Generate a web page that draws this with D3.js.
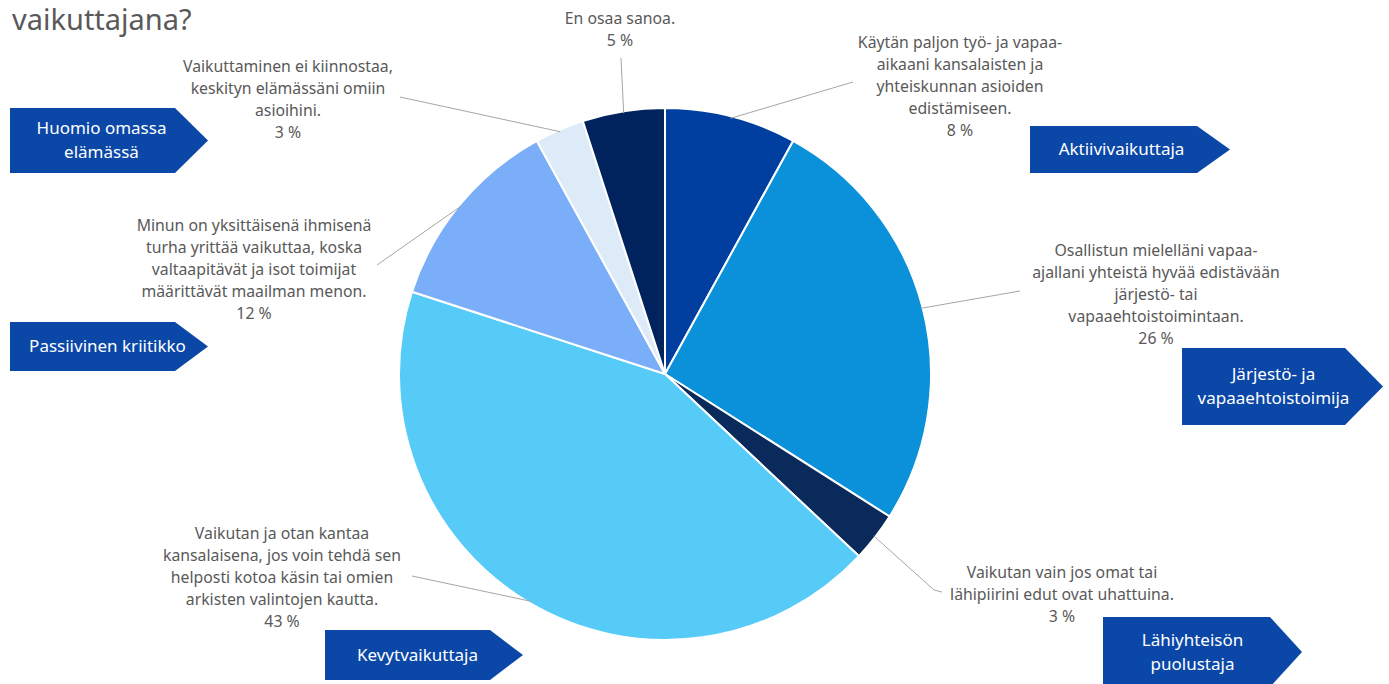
<!DOCTYPE html>
<html>
<head>
<meta charset="utf-8">
<title>vaikuttajana?</title>
<script src="https://cdn.jsdelivr.net/npm/d3@7"></script>
<style>
  body { margin: 0; background: #fff; }
  svg { display: block; font-family: "Noto Sans", "Open Sans", sans-serif; }
  .lbl { fill: #595959; font-size: 15.8px; }
  .tag { fill: #fff; font-size: 17px; }
</style>
</head>
<body>
<div id="chart"></div>
<script>
// answers, clockwise from 12 o'clock
const answers = [
  "Käytän paljon työ- ja vapaa-|aikaani kansalaisten ja|yhteiskunnan asioiden|edistämiseen.",
  "Osallistun mielelläni vapaa-|ajallani yhteistä hyvää edistävään|järjestö- tai|vapaaehtoistoimintaan.",
  "Vaikutan vain jos omat tai|lähipiirini edut ovat uhattuina.",
  "Vaikutan ja otan kantaa|kansalaisena, jos voin tehdä sen|helposti kotoa käsin tai omien|arkisten valintojen kautta.",
  "Minun on yksittäisenä ihmisenä|turha yrittää vaikuttaa, koska|valtaapitävät ja isot toimijat|määrittävät maailman menon.",
  "Vaikuttaminen ei kiinnostaa,|keskityn elämässäni omiin|asioihini.",
  "En osaa sanoa."
];
const shares = [8, 26, 3, 43, 12, 3, 5];
const sliceColors = ["#003fa0", "#0a91da", "#0b2a5c", "#56cbf8", "#7aaef8", "#ddebf9", "#00235e"];

// profile tags
const profiles = ["Aktiivivaikuttaja", "Järjestö- ja|vapaaehtoistoimija", "Lähiyhteisön|puolustaja",
  "Kevytvaikuttaja", "Passiivinen kriitikko", "Huomio omassa|elämässä"];

const width = 1389, height = 684;
const cx = 665, cy = 374, radius = 266;

// label layout: text centre x, first line y, leader end point
const labelPos = [
  {x: 960, y: 42, end: [853, 82]},
  {x: 1156, y: 250, end: [1020, 291]},
  {x: 1062, y: 572, end: [942, 592], bend: [934, 590]},
  {x: 282, y: 533, end: [412, 576]},
  {x: 254, y: 225, end: [377, 265]},
  {x: 288, y: 66, end: [400, 97]},
  {x: 620, y: 18, end: [621, 58]}
];
const tagPos = [
  {x: 1030, y: 126, w: 167, h: 47, tip: 33, dx: 8},
  {x: 1182, y: 348, w: 163, h: 77, tip: 38, dx: 10},
  {x: 1103, y: 617, w: 167, h: 70, tip: 32, dx: 6},
  {x: 325, y: 630, w: 165, h: 50, tip: 33, dx: 10},
  {x: 10, y: 322, w: 165, h: 49, tip: 33, dx: 15},
  {x: 10, y: 108, w: 165, h: 65, tip: 33, dx: 9}
];

const svg = d3.select("#chart").append("svg")
  .attr("width", width).attr("height", height);

svg.append("text")
  .attr("x", 12).attr("y", 30)
  .attr("fill", "#595959")
  .attr("font-size", 29)
  .text("vaikuttajana?");

const pie = d3.pie().sort(null).value(d => d)(shares);
const arc = d3.arc().innerRadius(0).outerRadius(radius);

const g = svg.append("g").attr("transform", `translate(${cx},${cy})`);
g.selectAll("path.slice")
  .data(pie)
  .join("path")
  .attr("class", "slice")
  .attr("d", arc)
  .attr("fill", (d, i) => sliceColors[i])
  .attr("stroke", "#fff")
  .attr("stroke-width", 2);

// leader lines
pie.forEach((d, i) => {
  const a = (d.startAngle + d.endAngle) / 2;
  const p0 = [cx + Math.sin(a) * (radius - 2), cy - Math.cos(a) * (radius - 2)];
  const lp = labelPos[i];
  const pts = lp.bend ? [p0, lp.bend, lp.end] : [p0, lp.end];
  svg.append("path")
    .attr("d", d3.line()(pts))
    .attr("fill", "none")
    .attr("stroke", "#a6a6a6")
    .attr("stroke-width", 1);
});

// data labels
answers.forEach((t, i) => {
  const lp = labelPos[i];
  const lines = t.split("|").concat([shares[i] + " %"]);
  const txt = svg.append("text")
    .attr("class", "lbl")
    .attr("text-anchor", "middle");
  lines.forEach((s, k) => {
    txt.append("tspan")
      .attr("x", lp.x)
      .attr("y", lp.y + k * 22.2)
      .attr("dy", "0.35em")
      .text(s);
  });
});

// profile arrows
profiles.forEach((t, i) => {
  const p = tagPos[i];
  const pts = [[p.x, p.y], [p.x + p.w, p.y], [p.x + p.w + p.tip, p.y + p.h / 2],
    [p.x + p.w, p.y + p.h], [p.x, p.y + p.h]];
  svg.append("path")
    .attr("d", d3.line()(pts) + "Z")
    .attr("fill", "#0a47a7");
  const lines = t.split("|");
  const txt = svg.append("text")
    .attr("class", "tag")
    .attr("text-anchor", "middle");
  const mid = p.y + p.h / 2 - (lines.length - 1) * 12;
  lines.forEach((s, k) => {
    txt.append("tspan")
      .attr("x", p.x + p.w / 2 + p.dx)
      .attr("y", mid + k * 24)
      .attr("dy", "0.35em")
      .text(s);
  });
});
</script>
</body>
</html>
